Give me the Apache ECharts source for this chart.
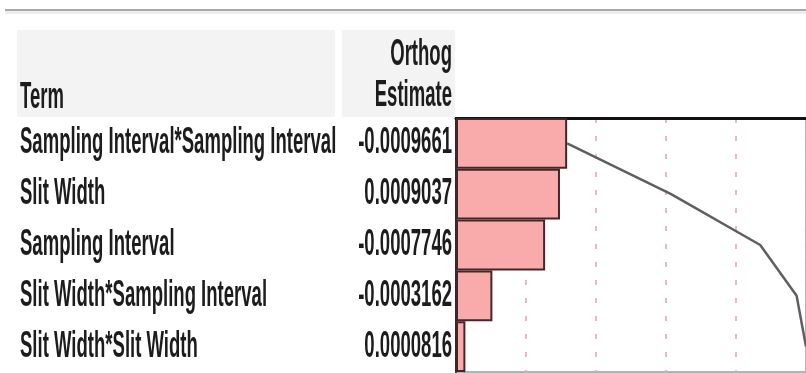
<!DOCTYPE html>
<html>
<head>
<meta charset="utf-8">
<script src="https://cdn.jsdelivr.net/npm/echarts@6/dist/echarts.min.js"></script>
<style>
  html, body { margin: 0; padding: 0; background: #fff; }
  #chart { width: 806px; height: 373px; }
</style>
</head>
<body>
<div id="chart"></div>
<script>
// Pareto plot of orthogonalized estimates
const terms = [
  'Sampling Interval*Sampling Interval',
  'Slit Width',
  'Sampling Interval',
  'Slit Width*Sampling Interval',
  'Slit Width*Slit Width'
];
const estimates = [-0.0009661, 0.0009037, -0.0007746, -0.0003162, 0.0000816];
const headerTerm = 'Term';
const headerEstimate = ['Orthog', 'Estimate'];

// bar length = |estimate|, line = running total of |estimate|
const absValues = estimates.map(v => Math.abs(v));
const cumulative = [];
absValues.reduce((acc, v) => { const s = acc + v; cumulative.push(s); return s; }, 0);
const total = cumulative[cumulative.length - 1];

const FONT = 'bold 36px Liberation Sans, Arial, sans-serif';
const SX = 0.515;
const TEXT_COLOR = '#1c1c1c';

const chart = echarts.init(document.getElementById('chart'), null, { renderer: 'canvas' });

const option = {
  animation: false,
  backgroundColor: '#ffffff',
  grid: { left: 456, top: 118, width: 355, height: 254, show: true, borderColor: '#9a9a9a', borderWidth: 1.5 },
  xAxis: {
    type: 'value',
    position: 'top',
    min: 0,
    max: total,
    interval: total / 5,
    axisLine: { show: true, lineStyle: { color: '#111', width: 3 } },
    axisTick: { show: false },
    axisLabel: { show: false },
    splitLine: { show: true, lineStyle: { color: '#e6a0b2', width: 1.5, type: [5, 13] } }
  },
  yAxis: {
    type: 'category',
    data: terms,
    inverse: true,
    axisLine: { show: true, lineStyle: { color: '#3a2626', width: 2 } },
    axisTick: { show: false },
    axisLabel: { show: false },
    splitLine: { show: false }
  },
  series: [
    {
      type: 'bar',
      data: absValues,
      barWidth: '100%',
      itemStyle: { color: '#f9abab', borderColor: '#442626', borderWidth: 2 },
      z: 2
    },
    {
      type: 'line',
      data: cumulative.map((c, i) => [c, terms[i]]),
      symbol: 'none',
      lineStyle: { color: '#5f5f5f', width: 2.5 },
      z: 3
    }
  ]
};
chart.setOption(option);

// table text placed on the category rows
function label(text, x, y, align) {
  return { type: 'text', x: x, y: y, scaleX: SX,
    style: { text: text, font: FONT, fill: TEXT_COLOR, textAlign: align, textVerticalAlign: 'middle' } };
}
const graphics = [
  { type: 'line', shape: { x1: 5, y1: 10, x2: 806, y2: 10 }, style: { stroke: '#a9a9a9', lineWidth: 2 } },
  { type: 'line', shape: { x1: 5, y1: 12.5, x2: 806, y2: 12.5 }, style: { stroke: '#e6e6e6', lineWidth: 2 } },
  { type: 'rect', shape: { x: 17, y: 30, width: 318, height: 87 }, style: { fill: '#f3f3f3' } },
  { type: 'rect', shape: { x: 342, y: 30, width: 113, height: 87 }, style: { fill: '#f3f3f3' } },
  label(headerTerm, 20, 98, 'left'),
  label(headerEstimate[0], 452, 55, 'right'),
  label(headerEstimate[1], 452, 96, 'right')
];
terms.forEach((t, i) => {
  const py = chart.convertToPixel({ yAxisIndex: 0 }, t);
  graphics.push(label(t, 20, py, 'left'));
  graphics.push(label(estimates[i].toFixed(7), 452, py, 'right'));
});
chart.setOption({ graphic: graphics });
</script>
</body>
</html>
